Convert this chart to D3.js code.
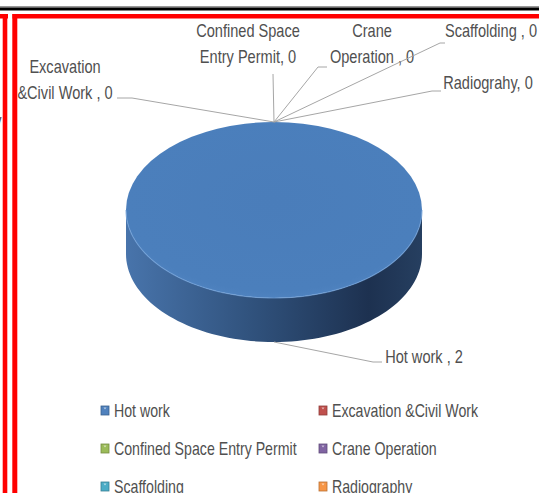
<!DOCTYPE html>
<html>
<head>
<meta charset="utf-8">
<script src="https://cdn.jsdelivr.net/npm/d3@7"></script>
<style>
  body { margin: 0; background: #fff; }
  text { font-family: "Liberation Sans", Arial, sans-serif; fill: #505050; }
</style>
</head>
<body>
<div id="chart"></div>
<script>
// data
var categories = ["Hot work", "Excavation &Civil Work", "Confined Space Entry Permit",
                  "Crane Operation", "Scaffolding", "Radiography"];
var values = [2, 0, 0, 0, 0, 0];
// data label names as printed on the chart ("|" = line break)
var labelNames = ["Hot work , ", "Excavation|&Civil Work , ", "Confined Space|Entry Permit, ",
                  "Crane|Operation , ", "Scaffolding , ", "Radiograhy, "];
var colors = ["#4F81BD", "#C0504D", "#9BBB59", "#8064A2", "#4BACC6", "#F79646"];

function init() {
    var w = 539;
    var h = 493;
    var cx = 274, cy = 210, rx = 148, ry = 88, depth = 44;
    var squeeze = 0.81;  // the source text is horizontally condensed

    // where each data label sits and where its leader line bends
    var labelLayout = [
        { x: 424, y: 363, bend: [[373, 362], [382, 362]] },
        { x: 65, y: 73, bend: [[132, 98], [117, 98]] },
        { x: 248, y: 37, bend: [[273, 74]] },
        { x: 372, y: 37, bend: [[318, 67], [327, 67]] },
        { x: 491, y: 37, bend: [[440, 43], [445, 43]] },
        { x: 488, y: 89, bend: [[432, 91], [441, 91]] }
    ];

    var svg = d3.select("#chart")
        .append("svg")
        .attr("width", w)
        .attr("height", h);

    var defs = svg.append("defs");

    var side = defs.append("linearGradient")
        .attr("id", "sideGrad")
        .attr("x1", 0).attr("x2", 1).attr("y1", 0).attr("y2", 0);
    side.append("stop").attr("offset", 0).attr("stop-color", "#4874AB");
    side.append("stop").attr("offset", 0.45).attr("stop-color", "#2F507A");
    side.append("stop").attr("offset", 0.82).attr("stop-color", "#1D3150");
    side.append("stop").attr("offset", 1).attr("stop-color", "#263F60");

    var top = defs.append("radialGradient")
        .attr("id", "topGrad")
        .attr("cx", 0.5).attr("cy", 0.45).attr("r", 0.6);
    top.append("stop").attr("offset", 0).attr("stop-color", "#4A7DBA");
    top.append("stop").attr("offset", 0.85).attr("stop-color", "#4B7FBC");
    top.append("stop").attr("offset", 1).attr("stop-color", "#5386C3");

    // frame lines
    svg.append("rect").attr("x", 0).attr("y", 6).attr("width", w).attr("height", 1.5).attr("fill", "#999");
    svg.append("rect").attr("x", 0).attr("y", 7.5).attr("width", w).attr("height", 3).attr("fill", "#000");
    svg.append("rect").attr("x", 12.5).attr("y", 14).attr("width", w).attr("height", 4.5).attr("fill", "#FF0000");
    svg.append("rect").attr("x", 0).attr("y", 14).attr("width", 8).attr("height", 4.5).attr("fill", "#FF0000");
    svg.append("rect").attr("x", 2.7).attr("y", 14).attr("width", 4.6).attr("height", h).attr("fill", "#FF0000");
    svg.append("rect").attr("x", 12.3).attr("y", 14).attr("width", 5).attr("height", h).attr("fill", "#FF0000");
    // tail of a neighbouring chart's text peeking in at the left edge
    svg.append("text").attr("x", -7).attr("y", 127).attr("font-size", 18)
        .attr("transform", "scale(" + squeeze + ",1)").text("y");

    var pie = d3.pie().sort(null).value(function(d) { return d; });
    var slices = pie(values);

    function pt(a, dy) {
        return [cx + rx * Math.sin(a), cy - ry * Math.cos(a) + (dy || 0)];
    }

    // sides of the 3D pie (front half only: angles PI/2 .. 3PI/2)
    var pieG = svg.append("g");
    slices.forEach(function(s, i) {
        var a0 = Math.max(s.startAngle, Math.PI / 2);
        var a1 = Math.min(s.endAngle, 3 * Math.PI / 2);
        if (a1 <= a0) return;
        var n = 80;
        var topEdge = d3.range(n + 1).map(function(k) { return pt(a0 + (a1 - a0) * k / n); });
        var botEdge = topEdge.map(function(p) { return [p[0], p[1] + depth]; }).reverse();
        pieG.append("path")
            .attr("d", d3.line()(topEdge.concat(botEdge)) + "Z")
            .attr("fill", i === 0 ? "url(#sideGrad)" : colors[i]);
    });

    // tops, drawn with d3.arc on a unit circle squashed into an ellipse
    var arc = d3.arc().innerRadius(0).outerRadius(1);
    pieG.append("g")
        .attr("transform", "translate(" + cx + "," + cy + ") scale(" + rx + "," + ry + ")")
        .selectAll("path")
        .data(slices.filter(function(s) { return s.value > 0; }))
        .enter()
        .append("path")
        .attr("d", arc)
        .attr("fill", function(d) { return d.index === 0 ? "url(#topGrad)" : colors[d.index]; });

    // light rim along the front edge of the top
    var rim = d3.range(81).map(function(k) { return pt(Math.PI / 2 + Math.PI * k / 80); });
    pieG.append("path")
        .attr("d", d3.line()(rim))
        .attr("fill", "none")
        .attr("stroke", "#6F9FD8")
        .attr("stroke-opacity", 0.7)
        .attr("stroke-width", 1.2);

    // leader lines and data labels
    slices.forEach(function(s, i) {
        var lay = labelLayout[i];
        var mid = (s.startAngle + s.endAngle) / 2;
        var start = s.value > 0 ? pt(mid, depth) : pt(s.endAngle);
        svg.append("path")
            .attr("d", d3.line()([start].concat(lay.bend)))
            .attr("fill", "none")
            .attr("stroke", "#A6A6A6")
            .attr("stroke-width", 1);

        var lines = (labelNames[i] + values[i]).split("|");
        var t = svg.append("g")
            .attr("transform", "translate(" + lay.x + "," + lay.y + ") scale(" + squeeze + ",1)")
            .append("text")
            .attr("text-anchor", "middle")
            .attr("font-size", 18);
        lines.forEach(function(line, k) {
            t.append("tspan")
                .attr("x", 0)
                .attr("y", k * 26)
                .text(line);
        });
    });

    // legend, two columns
    var legend = svg.append("g")
        .selectAll("g")
        .data(categories)
        .enter()
        .append("g")
        .attr("transform", function(d, i) {
            return "translate(" + (i % 2 === 0 ? 101 : 319) + "," + (406 + Math.floor(i / 2) * 38) + ")";
        });

    legend.append("rect")
        .attr("width", 8)
        .attr("height", 9)
        .attr("fill", function(d, i) { return colors[i]; })
        .attr("stroke", function(d, i) { return d3.color(colors[i]).darker(0.8); })
        .attr("stroke-width", 0.8);

    legend.append("path")
        .attr("d", "M2.5,1.5 L5.5,1.5 L4,3.5 Z")
        .attr("fill", "#fff")
        .attr("fill-opacity", 0.6);

    legend.append("text")
        .attr("transform", "translate(13,10.5) scale(" + squeeze + ",1)")
        .attr("font-size", 17.5)
        .text(function(d) { return d; });
}

window.onload = init;
</script>
</body>
</html>
